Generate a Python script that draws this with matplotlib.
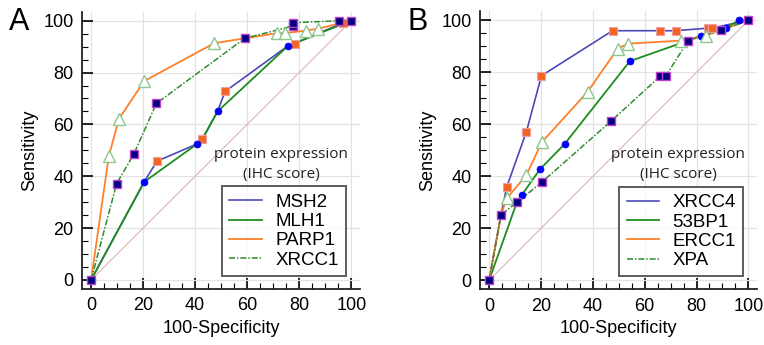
import matplotlib
matplotlib.use("Agg")
from matplotlib import pyplot as plt
from matplotlib.ticker import MultipleLocator

plt.rcParams['font.family'] = ['Liberation Sans', 'DejaVu Sans']

# Panel A - ROC points (100-Specificity, Sensitivity)
msh2_x = [0, 20.4, 25.3, 40.8, 42.8, 48.6, 51.5, 75.8, 78.3, 96.9, 100]
msh2_y = [0, 37.8, 45.8, 52.5, 54.4, 65, 72.7, 90.4, 91.2, 99.2, 100]
msh2_marks = [2, 4, 6, 8, 9]

mlh1_x = [0, 20.4, 40.8, 42.8, 48.6, 75.8, 100]
mlh1_y = [0, 37.8, 52.5, 54.4, 65, 90.4, 100]
mlh1_marks = [1, 2, 4, 5]

parp1_x = [0, 6.8, 10.7, 20.4, 47.3, 59.1, 71.5, 74.5, 82.5, 87.1, 100]
parp1_y = [0, 47.7, 62.1, 76.7, 91.3, 93.2, 95.2, 95.2, 96.2, 96.9, 100]
parp1_marks = [1, 2, 3, 4, 6, 7, 8, 9]

xrcc1_x = [0, 9.8, 16.5, 25.1, 59.1, 77.7, 77.7, 95.2, 100]
xrcc1_y = [0, 37.1, 48.7, 68.1, 93.2, 98.0, 99.2, 100, 100]
xrcc1_marks = [0, 1, 2, 3, 4, 5, 6, 7, 8]

# Panel B
xrcc4_x = [0, 4.6, 6.8, 14.4, 20.2, 47.6, 66, 72, 84.5, 86, 100]
xrcc4_y = [0, 25.2, 35.9, 57.2, 78.7, 96, 96, 96, 97, 97, 100]
xrcc4_marks = [2, 3, 4, 5, 6, 7, 8, 9]

bp53_x = [0, 10.7, 12.6, 19.6, 29.1, 54.3, 76.8, 81.7, 91.2, 96.3, 100]
bp53_y = [0, 30, 32.8, 42.7, 52.4, 84.3, 92.2, 94.1, 97, 100, 100]
bp53_marks = [2, 3, 4, 5, 7, 8, 9]

ercc1_x = [0, 4.6, 6.8, 14.4, 20.3, 38, 49.6, 53.4, 73.9, 83.5, 100]
ercc1_y = [0, 25.2, 31.5, 40.5, 53.1, 72.5, 89.1, 91, 92.2, 94.1, 100]
ercc1_marks = [2, 3, 4, 5, 6, 7, 8, 9]

xpa_x = [0, 4.6, 10.7, 20.3, 46.9, 66, 68.1, 76.8, 89.5, 100]
xpa_y = [0, 25.2, 30, 37.7, 61.1, 78.5, 78.5, 92.2, 96.2, 100]
xpa_marks = [0, 1, 2, 3, 4, 5, 6, 7, 8, 9]

labels_a = ['MSH2', 'MLH1', 'PARP1', 'XRCC1']
labels_b = ['XRCC4', '53BP1', 'ERCC1', 'XPA']

# line + marker style for curve 1..4 (same scheme in both panels)
line_styles = [
    dict(color='#4a4ab8', ls='-', lw=1.2),
    dict(color='#1e8c1e', ls='-', lw=1.3),
    dict(color='#ff7f2a', ls='-', lw=1.3),
    dict(color='#2e8b2e', ls=(0, (4, 1.2, 1, 1.2)), lw=1.1),
]
marker_styles = [
    dict(marker='s', ms=6, mfc='#f26522', mec='#f0a0a0', mew=0.8),
    dict(marker='o', ms=5, mfc='#0000ff', mec='#0000ff', mew=0.5),
    dict(marker='^', ms=8, mfc='white', mec='#8cc88c', mew=1.0),
    dict(marker='s', ms=6, mfc='#000080', mec='#c040d0', mew=1.0),
]


def draw_panel(ax, curves, labels, letter):
    # diagonal reference line
    ax.plot([0, 100], [0, 100], color='#dcb4b4', lw=0.8, zorder=1)
    handles = []
    for i, (x, y, marks) in enumerate(curves):
        h, = ax.plot(x, y, zorder=2 + i, **line_styles[i])
        ax.plot(x, y, ls='none', markevery=marks, zorder=6 + i, **marker_styles[i])
        handles.append(h)

    ax.set_xlim(-3.5, 103.5)
    ax.set_ylim(-3.5, 103.5)
    ax.xaxis.set_major_locator(MultipleLocator(20))
    ax.yaxis.set_major_locator(MultipleLocator(20))
    ax.xaxis.set_minor_locator(MultipleLocator(5))
    ax.yaxis.set_minor_locator(MultipleLocator(5))
    ax.tick_params(which='major', direction='in', length=8, width=1.2, labelsize=13, pad=6)
    ax.tick_params(which='minor', direction='in', length=4, width=0.8)
    ax.grid(True, which='major', color='#e2e2e2', lw=0.9, zorder=0)
    ax.set_axisbelow(True)
    for s in ['top', 'right']:
        ax.spines[s].set_visible(False)
    for s in ['left', 'bottom']:
        ax.spines[s].set_linewidth(1.3)
        ax.spines[s].set_color('#222222')

    ax.set_xlabel('100-Specificity', fontsize=13, labelpad=4)
    ax.set_ylabel('Sensitivity', fontsize=13, labelpad=4)

    ax.text(73, 48.3, 'protein expression', ha='center', va='center', fontsize=11,
            family='Open Sans', color='#222222')
    ax.text(73, 40.6, '(IHC score)', ha='center', va='center', fontsize=11,
            family='Open Sans', color='#222222')

    leg = ax.legend(handles, labels, loc='lower right', bbox_to_anchor=(0.948, 0.047),
                    fontsize=13.5, frameon=True, fancybox=False, handlelength=1.75,
                    handletextpad=0.7, labelspacing=0.12, borderpad=0.38, borderaxespad=0)
    leg.get_frame().set_edgecolor('#333333')
    leg.get_frame().set_linewidth(1.4)

    ax.figure.text(ax.get_position().x0 - 0.095, 0.935, letter, fontsize=22, va='center')


fig = plt.figure(figsize=(7.64, 3.45), dpi=100)
ax1 = fig.add_axes([0.1073, 0.1623, 0.3644, 0.804])
ax2 = fig.add_axes([0.6283, 0.161, 0.3631, 0.8065])

draw_panel(ax1, [(msh2_x, msh2_y, msh2_marks), (mlh1_x, mlh1_y, mlh1_marks),
                 (parp1_x, parp1_y, parp1_marks), (xrcc1_x, xrcc1_y, xrcc1_marks)],
           labels_a, 'A')
draw_panel(ax2, [(xrcc4_x, xrcc4_y, xrcc4_marks), (bp53_x, bp53_y, bp53_marks),
                 (ercc1_x, ercc1_y, ercc1_marks), (xpa_x, xpa_y, xpa_marks)],
           labels_b, 'B')

plt.savefig('out.png', dpi=100)
